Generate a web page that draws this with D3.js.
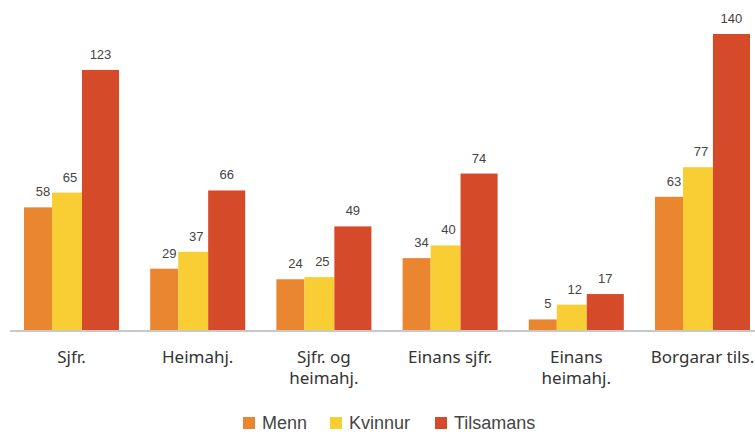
<!DOCTYPE html>
<html>
<head>
<meta charset="utf-8">
<script src="https://cdn.jsdelivr.net/npm/d3@7"></script>
<style>
  body { margin: 0; background: #fff; }
  svg { display: block; }
</style>
</head>
<body>
<div id="chart"></div>
<script>
let categories = [['Sjfr.'], ['Heimahj.'], ['Sjfr. og', 'heimahj.'], ['Einans sjfr.'], ['Einans', 'heimahj.'], ['Borgarar tils.']];
let seriesNames = ['Menn', 'Kvinnur', 'Tilsamans'];
let menn = [58, 29, 24, 34, 5, 63];
let kvinnur = [65, 37, 25, 40, 12, 77];
let tilsamans = [123, 66, 49, 74, 17, 140];

let colours = ['#EA8530', '#F9CE35', '#D54B29'];
let dim = { width: 755, height: 434 };

let svg = d3.select('#chart').append('svg')
    .attr('width', dim.width)
    .attr('height', dim.height);

let scaleX = d3.scaleBand()
    .domain(d3.range(categories.length))
    .range([24, 750])
    .paddingInner(0.247)
    .paddingOuter(0);

let scaleY = d3.scaleLinear()
    .domain([0, 140])
    .range([330, 34]);

// bars are not all the same width in the original
let widthShare = [0.295, 0.315, 0.39];
let offsetShare = [0, 0.295, 0.61];
let labelShift = [5, 3, 0];

let series = [menn, kvinnur, tilsamans];

let g = svg.append('g');

series.forEach((values, s) => {
    let bw = scaleX.bandwidth();
    g.selectAll('.bar' + s)
        .data(values)
        .join('rect')
        .attr('class', 'bar' + s)
        .attr('x', (d, i) => scaleX(i) + offsetShare[s] * bw)
        .attr('width', widthShare[s] * bw)
        .attr('y', d => scaleY(d))
        .attr('height', d => scaleY(0) - scaleY(d))
        .attr('fill', colours[s]);

    g.selectAll('.lab' + s)
        .data(values)
        .join('text')
        .attr('class', 'lab' + s)
        .attr('x', (d, i) => scaleX(i) + (offsetShare[s] + widthShare[s] / 2) * bw + labelShift[s])
        .attr('y', d => scaleY(d) - 11)
        .attr('text-anchor', 'middle')
        .attr('font-family', 'Liberation Sans, Arial, sans-serif')
        .attr('font-size', 13)
        .attr('fill', '#444')
        .text(d => d);
});

// baseline
svg.append('line')
    .attr('x1', 10).attr('x2', 755)
    .attr('y1', scaleY(0) + 1).attr('y2', scaleY(0) + 1)
    .attr('stroke', '#c8c8c8')
    .attr('stroke-width', 2);

// category labels
let catG = svg.append('g');
categories.forEach((lines, i) => {
    let t = catG.append('text')
        .attr('x', scaleX(i) + scaleX.bandwidth() / 2)
        .attr('y', 363)
        .attr('text-anchor', 'middle')
        .attr('font-family', 'Noto Sans, sans-serif')
        .attr('font-size', 17)
        .attr('fill', '#333');
    lines.forEach((ln, k) => {
        t.append('tspan')
            .attr('x', scaleX(i) + scaleX.bandwidth() / 2)
            .attr('dy', k == 0 ? 0 : 21)
            .text(ln);
    });
});

// legend
let legendX = [243, 330, 435];
let legend = svg.append('g');
seriesNames.forEach((name, s) => {
    legend.append('rect')
        .attr('x', legendX[s])
        .attr('y', 417)
        .attr('width', 12)
        .attr('height', 12)
        .attr('fill', colours[s]);
    legend.append('text')
        .attr('x', legendX[s] + 19)
        .attr('y', 429)
        .attr('font-family', 'Liberation Sans, Arial, sans-serif')
        .attr('font-size', 18)
        .attr('fill', '#444')
        .text(name);
});
</script>
</body>
</html>
